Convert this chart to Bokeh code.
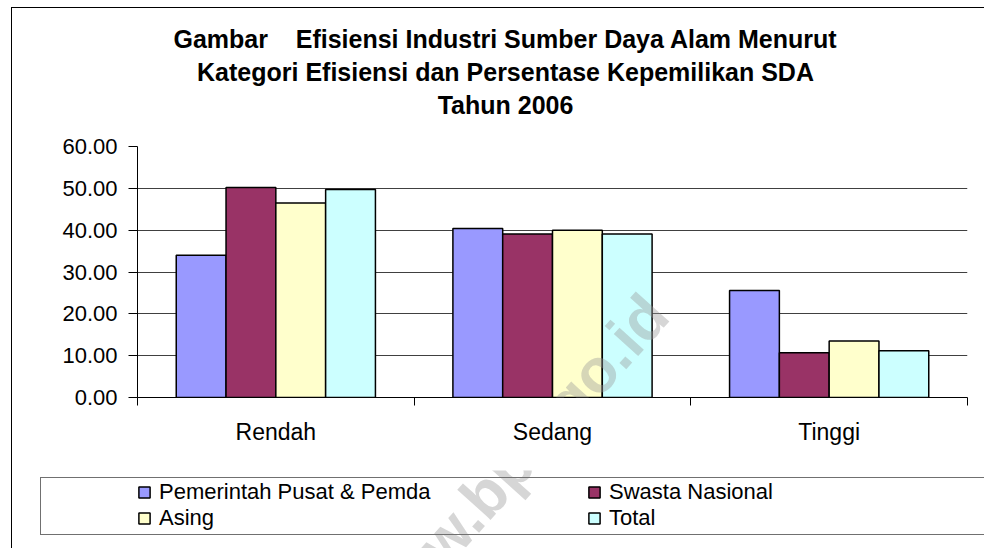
from bokeh.plotting import figure
from bokeh.models import (FactorRange, Range1d, LinearAxis, CategoricalAxis, FixedTicker,
                          NumeralTickFormatter, Legend, LegendItem, Label,
                          ColumnDataSource, InlineStyleSheet)
from bokeh.layouts import column
from bokeh.transform import dodge
from bokeh.embed import file_html
from bokeh.resources import INLINE

# ---- data ----
categories = ["Rendah", "Sedang", "Tinggi"]
series_names = ["Pemerintah Pusat & Pemda", "Swasta Nasional", "Asing", "Total"]
pemerintah = [34.0, 40.4, 25.6]
swasta = [50.2, 39.1, 10.7]
asing = [46.5, 40.0, 13.5]
total = [49.7, 39.1, 11.2]
y_ticks = [0, 10, 20, 30, 40, 50, 60]
title_lines = ["Gambar\u00a0\u00a0\u00a0 Efisiensi Industri Sumber Daya Alam Menurut",
               "Kategori Efisiensi dan Persentase Kepemilikan SDA",
               "Tahun 2006"]
watermark = "www.bps.go.id"

# ---- style ----
colors = ["#9999FF", "#993366", "#FFFFCC", "#CCFFFF"]
offsets = [-0.27, -0.09, 0.09, 0.27]
FONT = "Liberation Sans"
W = 984
FRAME_L, FRAME_R = 137, 967   # plot frames are aligned across the column


def blank(height):
    f = figure(width=W, height=height, x_range=Range1d(FRAME_L, FRAME_R), y_range=Range1d(0, height),
               output_backend="svg", toolbar_location=None,
               x_axis_location=None, y_axis_location=None,
               min_border_left=0, min_border_right=0, min_border_top=0, min_border_bottom=0)
    f.grid.visible = False
    f.outline_line_color = None
    f.background_fill_color = "white"
    f.border_fill_color = "white"
    return f


# ---------- title strip ----------
pt = blank(130)
for txt, yv in zip(title_lines, [92, 59, 26]):
    pt.add_layout(Label(x=505, y=yv, text=txt, text_align="center", text_baseline="middle",
                        text_font=FONT, text_font_size="25px", text_font_style="bold",
                        text_color="black"))
pt.stylesheets = [InlineStyleSheet(css=""":host::before { content: ""; position: absolute;
  left: 11px; top: 7px; right: 0px; bottom: 0px; border-left: 1px solid black;
  border-top: 1px solid black; pointer-events: none; z-index: 10; }""")]

# ---------- main chart ----------
src = ColumnDataSource(dict(cat=categories, pemerintah=pemerintah, swasta=swasta,
                            asing=asing, total=total))
cols = ["pemerintah", "swasta", "asing", "total"]

p = figure(x_range=FactorRange(factors=categories, range_padding=0),
           y_range=Range1d(0, 60),
           width=W, height=340, output_backend="svg", toolbar_location=None,
           x_axis_location=None,
           min_border_left=FRAME_L, min_border_right=W - FRAME_R, min_border_top=16, min_border_bottom=73)
p.outline_line_color = None
p.background_fill_color = "white"
p.border_fill_color = "white"
p.xgrid.visible = False

for col, color, off in zip(cols, colors, offsets):
    p.vbar(x=dodge("cat", off, range=p.x_range), top=col, width=0.18, source=src,
           fill_color=color, line_color="black", line_width=1.5)

yax = p.yaxis[0]
yax.ticker = FixedTicker(ticks=y_ticks)
yax.formatter = NumeralTickFormatter(format="0.00")
yax.major_tick_out = 9
yax.major_tick_in = 0
yax.minor_tick_line_color = None
yax.axis_line_color = "black"
yax.major_tick_line_color = "black"
yax.major_label_standoff = 11
yax.major_label_text_font = FONT
yax.major_label_text_font_size = "22px"
yax.major_label_text_color = "black"
p.ygrid.ticker = FixedTicker(ticks=y_ticks)
p.ygrid.grid_line_color = "#404040"
p.ygrid.grid_line_width = 1

# boundary ticks at category edges (synthetic coords) + category labels
ax_num = LinearAxis(ticker=FixedTicker(ticks=[0, 1, 2, 3]),
                    major_tick_out=8, major_tick_in=0, minor_tick_line_color=None,
                    major_label_overrides={0: "", 1: "", 2: "", 3: ""},
                    major_label_standoff=0,
                    axis_line_color="black", major_tick_line_color="black")
p.add_layout(ax_num, "below")
ax_cat = CategoricalAxis(major_tick_line_color=None, axis_line_color=None,
                         minor_tick_line_color=None, major_label_standoff=7,
                         major_label_text_font=FONT, major_label_text_font_size="23px",
                         major_label_text_color="black")
p.add_layout(ax_cat, "below")

p.add_layout(Label(x=1.348, y=-16.3, text=watermark, angle=48, angle_units="deg",
                   text_align="center", text_baseline="middle", text_font=FONT,
                   text_font_size="62px", text_font_style="bold", text_color="#999999",
                   text_alpha=0.4, level="overlay"))
p.stylesheets = [InlineStyleSheet(css=""":host::before { content: ""; position: absolute;
  left: 11px; top: 0px; bottom: 0px; width: 0px; border-left: 1px solid black;
  pointer-events: none; z-index: 10; }""")]

# ---------- legend strip ----------
pl = blank(78)
leg_renderers = []
for col, color, off in zip(cols, colors, offsets):
    r = pl.vbar(x=dodge("cat", off, range=p.x_range), top=col, width=0.18, source=src,
                fill_color=color, line_color="black", line_width=1.5, visible=False)
    leg_renderers.append(r)
order = [0, 2, 1, 3]
legend = Legend(items=[LegendItem(label=series_names[i], renderers=[leg_renderers[i]]) for i in order],
                ncols=2, location=(0, 17), padding=0, margin=0, spacing=0,
                border_line_color=None, background_fill_alpha=0,
                inactive_fill_alpha=0,
                glyph_width=14, glyph_height=14, label_standoff=8, label_width=428,
                label_text_font=FONT, label_text_font_size="22px", label_text_color="black")
pl.add_layout(legend, "center")
pl.add_layout(Label(x=510, y=83, text=watermark, angle=48, angle_units="deg",
                    text_align="center", text_baseline="middle", text_font=FONT,
                    text_font_size="62px", text_font_style="bold", text_color="#999999",
                    text_alpha=0.4, level="overlay"))
pl.stylesheets = [InlineStyleSheet(css=""":host::before { content: ""; position: absolute;
  left: 11px; top: 0px; bottom: 0px; width: 0px; border-left: 1px solid black;
  pointer-events: none; z-index: 10; }
:host::after { content: ""; position: absolute; left: 40px; top: 7px; right: 0px; height: 58px;
  border-left: 1px solid #707070; border-top: 1px solid #707070; border-bottom: 1px solid #707070;
  pointer-events: none; z-index: 10; }""")]

layout = column(pt, p, pl, spacing=0)
open("out.html", "w").write(file_html(layout, INLINE))
